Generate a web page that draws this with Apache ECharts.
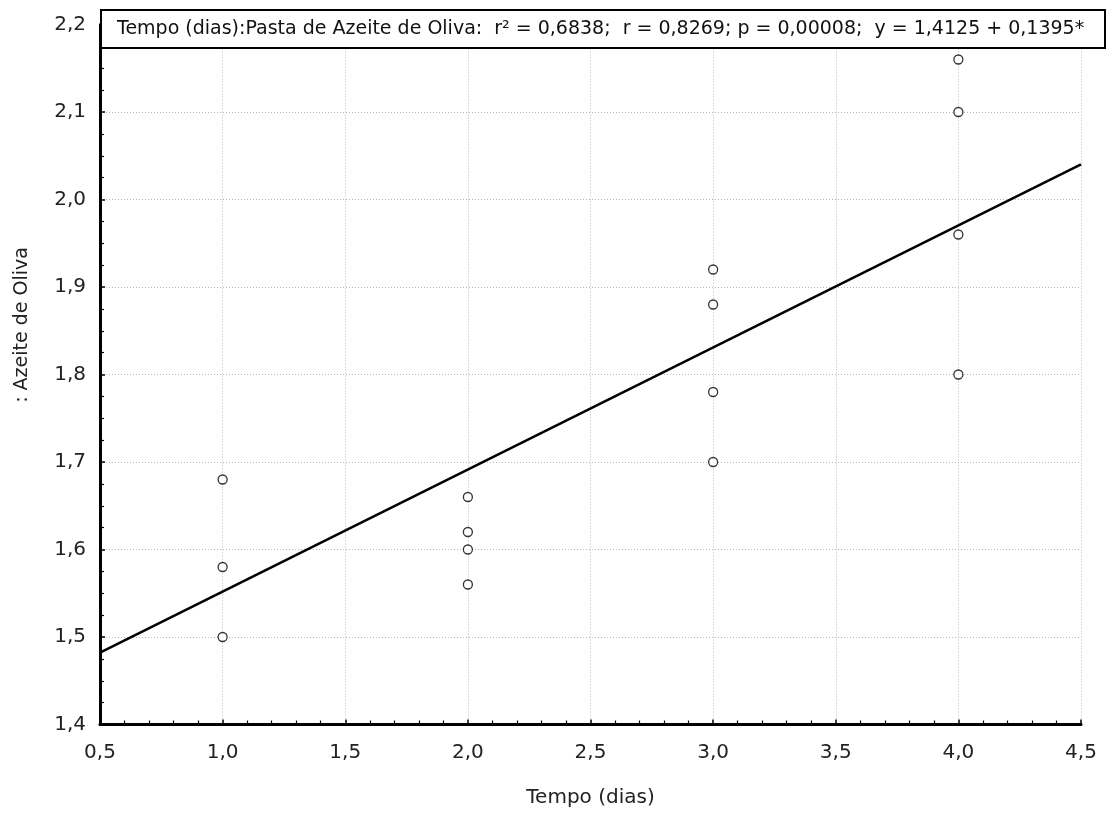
<!DOCTYPE html>
<html>
<head>
<meta charset="utf-8">
<script src="https://cdn.jsdelivr.net/npm/echarts@6/dist/echarts.min.js"></script>
<style>
  html, body { margin: 0; padding: 0; background: #fff; }
  #chart { width: 1107px; height: 816px; }
</style>
</head>
<body>
<div id="chart"></div>
<script>
// Observed values: time (days) and paste measurement
const tempoDias = [1, 1, 1, 2, 2, 2, 2, 3, 3, 3, 3, 4, 4, 4, 4];
const pastaAzeite = [1.68, 1.58, 1.50, 1.66, 1.62, 1.60, 1.56, 1.92, 1.88, 1.78, 1.70, 2.16, 2.10, 1.96, 1.80];

// Fitted regression line y = a + b*x, drawn over the x range
const coefIntercept = 1.4125;
const coefSlope = 0.1395;
const fitRange = [0.5, 4.5];

const xTicks = { min: 0.5, max: 4.5, step: 0.5 };
const yTicks = { min: 1.4, max: 2.2, step: 0.1 };

const headerText = 'Tempo (dias):Pasta de Azeite de Oliva:  r\u00B2 = 0,6838;  r = 0,8269; p = 0,00008;  y = 1,4125 + 0,1395*';
const xName = 'Tempo (dias)';
const yName = ': Azeite de Oliva';

const points = tempoDias.map((x, i) => [x, pastaAzeite[i]]);
const fitLine = fitRange.map(x => [x, coefIntercept + coefSlope * x]);

const fmt = v => v.toFixed(1).replace('.', ',');
const FONT = '"DejaVu Sans", Arial, sans-serif';
const GRID_DOTS = { color: '#b8b8b8', type: [1, 2], width: 1 };

const chart = echarts.init(document.getElementById('chart'), null, { renderer: 'canvas' });

chart.setOption({
  animation: false,
  backgroundColor: '#ffffff',
  grid: { left: 100, right: 26, top: 24.5, bottom: 91.5, containLabel: false },
  xAxis: {
    type: 'value',
    min: xTicks.min, max: xTicks.max, interval: xTicks.step,
    name: xName,
    nameLocation: 'middle',
    nameGap: 63,
    nameTextStyle: { fontFamily: FONT, fontSize: 20, color: '#222', padding: 0 },
    axisLine: { show: true, onZero: false, lineStyle: { color: '#000', width: 3 } },
    axisTick: { show: true, inside: true, length: 5, lineStyle: { color: '#000', width: 1.5 } },
    minorTick: { show: true, splitNumber: 5, length: 4, lineStyle: { color: '#000', width: 1.2 } },
    axisLabel: { formatter: fmt, fontFamily: FONT, fontSize: 20, color: '#222', margin: 18 },
    splitLine: { show: true, lineStyle: GRID_DOTS }
  },
  yAxis: {
    type: 'value',
    min: yTicks.min, max: yTicks.max, interval: yTicks.step,
    axisLine: { show: true, onZero: false, lineStyle: { color: '#000', width: 3 } },
    axisTick: { show: true, inside: true, length: 5, lineStyle: { color: '#000', width: 1.5 } },
    minorTick: { show: true, splitNumber: 4, length: 4, lineStyle: { color: '#000', width: 1.2 } },
    axisLabel: { formatter: fmt, fontFamily: FONT, fontSize: 20, color: '#222', margin: 14 },
    splitLine: { show: true, lineStyle: GRID_DOTS }
  },
  series: [
    {
      type: 'line',
      data: fitLine,
      showSymbol: false,
      symbol: 'none',
      lineStyle: { color: '#000', width: 2.5 },
      z: 3
    },
    {
      type: 'scatter',
      data: points,
      symbol: 'circle',
      symbolSize: 9,
      itemStyle: { color: '#fff', borderColor: '#000', borderWidth: 1.3 },
      z: 4
    }
  ],
  graphic: [
    {
      type: 'rect',
      z: 100,
      shape: { x: 101, y: 10, width: 1004, height: 38 },
      style: { fill: '#fff', stroke: '#000', lineWidth: 2 }
    },
    {
      type: 'text',
      z: 101,
      x: 117, y: 29,
      style: {
        text: headerText,
        font: '19px ' + FONT,
        fill: '#111',
        verticalAlign: 'middle'
      }
    },
    {
      type: 'text',
      z: 101,
      x: 22, y: 325,
      rotation: Math.PI / 2,
      style: {
        text: yName,
        font: '19px ' + FONT,
        fill: '#222',
        align: 'center',
        verticalAlign: 'middle'
      }
    }
  ]
});
</script>
</body>
</html>
